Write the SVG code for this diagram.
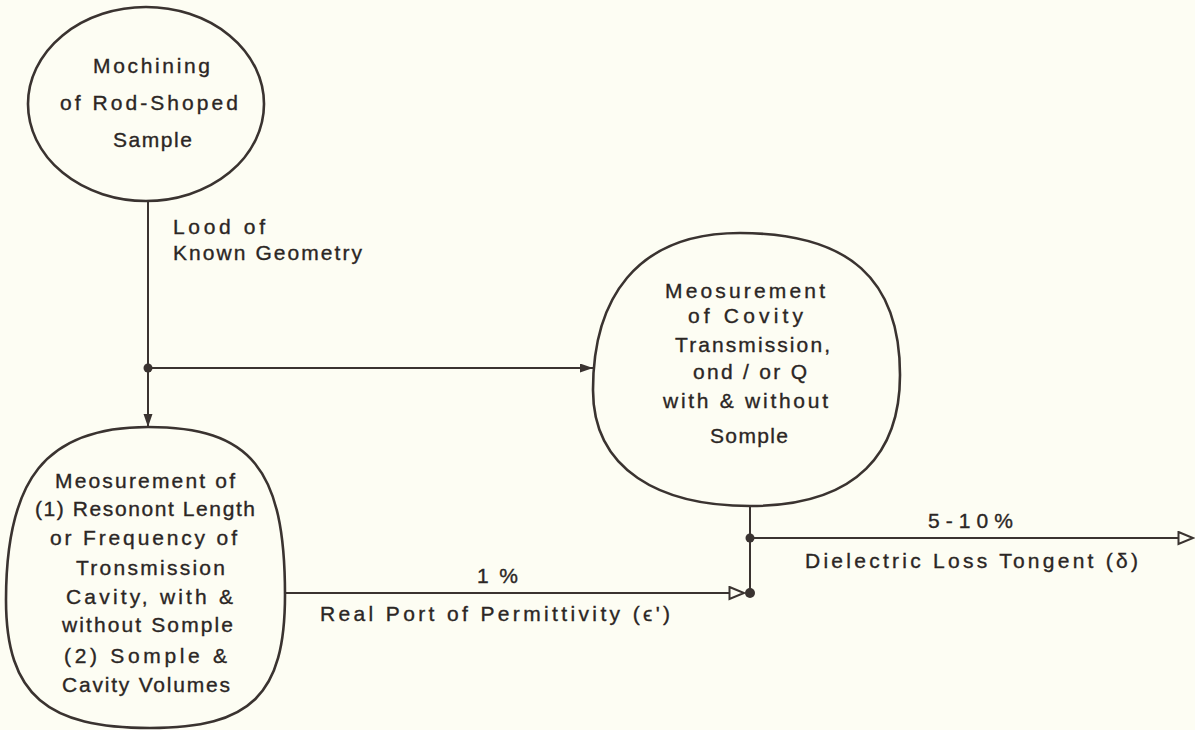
<svg xmlns="http://www.w3.org/2000/svg" width="1195" height="730" viewBox="0 0 1195 730">
  <style>
    .bg { fill: #fdfdf3; }
    .node { fill: none; stroke: #3a3330; stroke-width: 2.6; }
    .conn { fill: none; stroke: #3a3330; stroke-width: 2; }
    .dot { fill: #3a3330; }
    text { font-family: "Liberation Sans", Arial, sans-serif; font-size: 21px; fill: #2b2624; stroke: #2b2624; stroke-width: 0.35; }
  </style>
  <defs>
    <marker id="arrFill" markerUnits="userSpaceOnUse" markerWidth="14" markerHeight="10" refX="13" refY="4.5" orient="auto">
      <path d="M0,0 L13,4.5 L0,9 z" fill="#3a3330"/>
    </marker>
    <marker id="arrOpen" markerUnits="userSpaceOnUse" markerWidth="18" markerHeight="16" refX="16" refY="7" orient="auto">
      <path d="M1.5,1 L16,7 L1.5,13 z" fill="#fdfdf3" stroke="#3a3330" stroke-width="2"/>
    </marker>
  </defs>
  <rect class="bg" x="0" y="0" width="1195" height="730"/>

  <g id="connectors">
    <path class="conn" d="M148,200 L148,427" marker-end="url(#arrFill)"/>
    <path class="conn" d="M148,368 L593,368" marker-end="url(#arrFill)"/>
    <path class="conn" d="M285,593 L744,593" marker-end="url(#arrOpen)"/>
    <path class="conn" d="M750,506 L750,593"/>
    <path class="conn" d="M750,538 L1193,538" marker-end="url(#arrOpen)"/>
    <circle class="dot" cx="148" cy="368" r="4.5"/>
    <circle class="dot" cx="750" cy="538" r="4.5"/>
    <circle class="dot" cx="750" cy="593" r="5"/>
    <text x="173" y="234" textLength="92">Lood of</text>
    <text x="173" y="260" textLength="189">Known Geometry</text>
    <text x="477" y="583" textLength="41">1 %</text>
    <text x="320" y="621" textLength="350">Real Port of Permittivity (ϵ')</text>
    <text x="928" y="528" textLength="85">5-10%</text>
    <text x="805" y="568" textLength="333">Dielectric Loss Tongent (δ)</text>
  </g>

  <g id="node-machining">
    <ellipse class="node" cx="146" cy="104" rx="118" ry="97"/>
    <text x="93" y="73" textLength="117">Mochining</text>
    <text x="60" y="110" textLength="178">of Rod-Shoped</text>
    <text x="113" y="147" textLength="79">Sample</text>
  </g>

  <g id="node-cavity-transmission">
    <path class="node" d="M740,233 C850,233 900,280 900,375 C900,450 860,506 750,506 C660,506 593,470 593,390 C593,300 635,233 740,233 Z"/>
    <text x="665" y="298" textLength="160">Meosurement</text>
    <text x="688" y="323" textLength="115">of Covity</text>
    <text x="675" y="352" textLength="155">Transmission,</text>
    <text x="693" y="379" textLength="114">ond / or Q</text>
    <text x="663" y="408" textLength="165">with &amp; without</text>
    <text x="710" y="443" textLength="78">Somple</text>
  </g>

  <g id="node-resonant-length">
    <path class="node" d="M148,427 C251,427 285,469 285,595 C285,695 251,728 150,728 C48,728 6,696 6,600 C6,480 45,427 148,427 Z"/>
    <text x="55" y="488" textLength="180">Meosurement of</text>
    <text x="35" y="516" textLength="220">(1) Resonont Length</text>
    <text x="50" y="545" textLength="187">or Frequency of</text>
    <text x="76" y="575" textLength="149">Tronsmission</text>
    <text x="66" y="604" textLength="167">Cavity, with &amp;</text>
    <text x="62" y="632" textLength="171">without Somple</text>
    <text x="64" y="663" textLength="163">(2) Somple &amp;</text>
    <text x="62" y="692" textLength="168">Cavity Volumes</text>
  </g>
</svg>
